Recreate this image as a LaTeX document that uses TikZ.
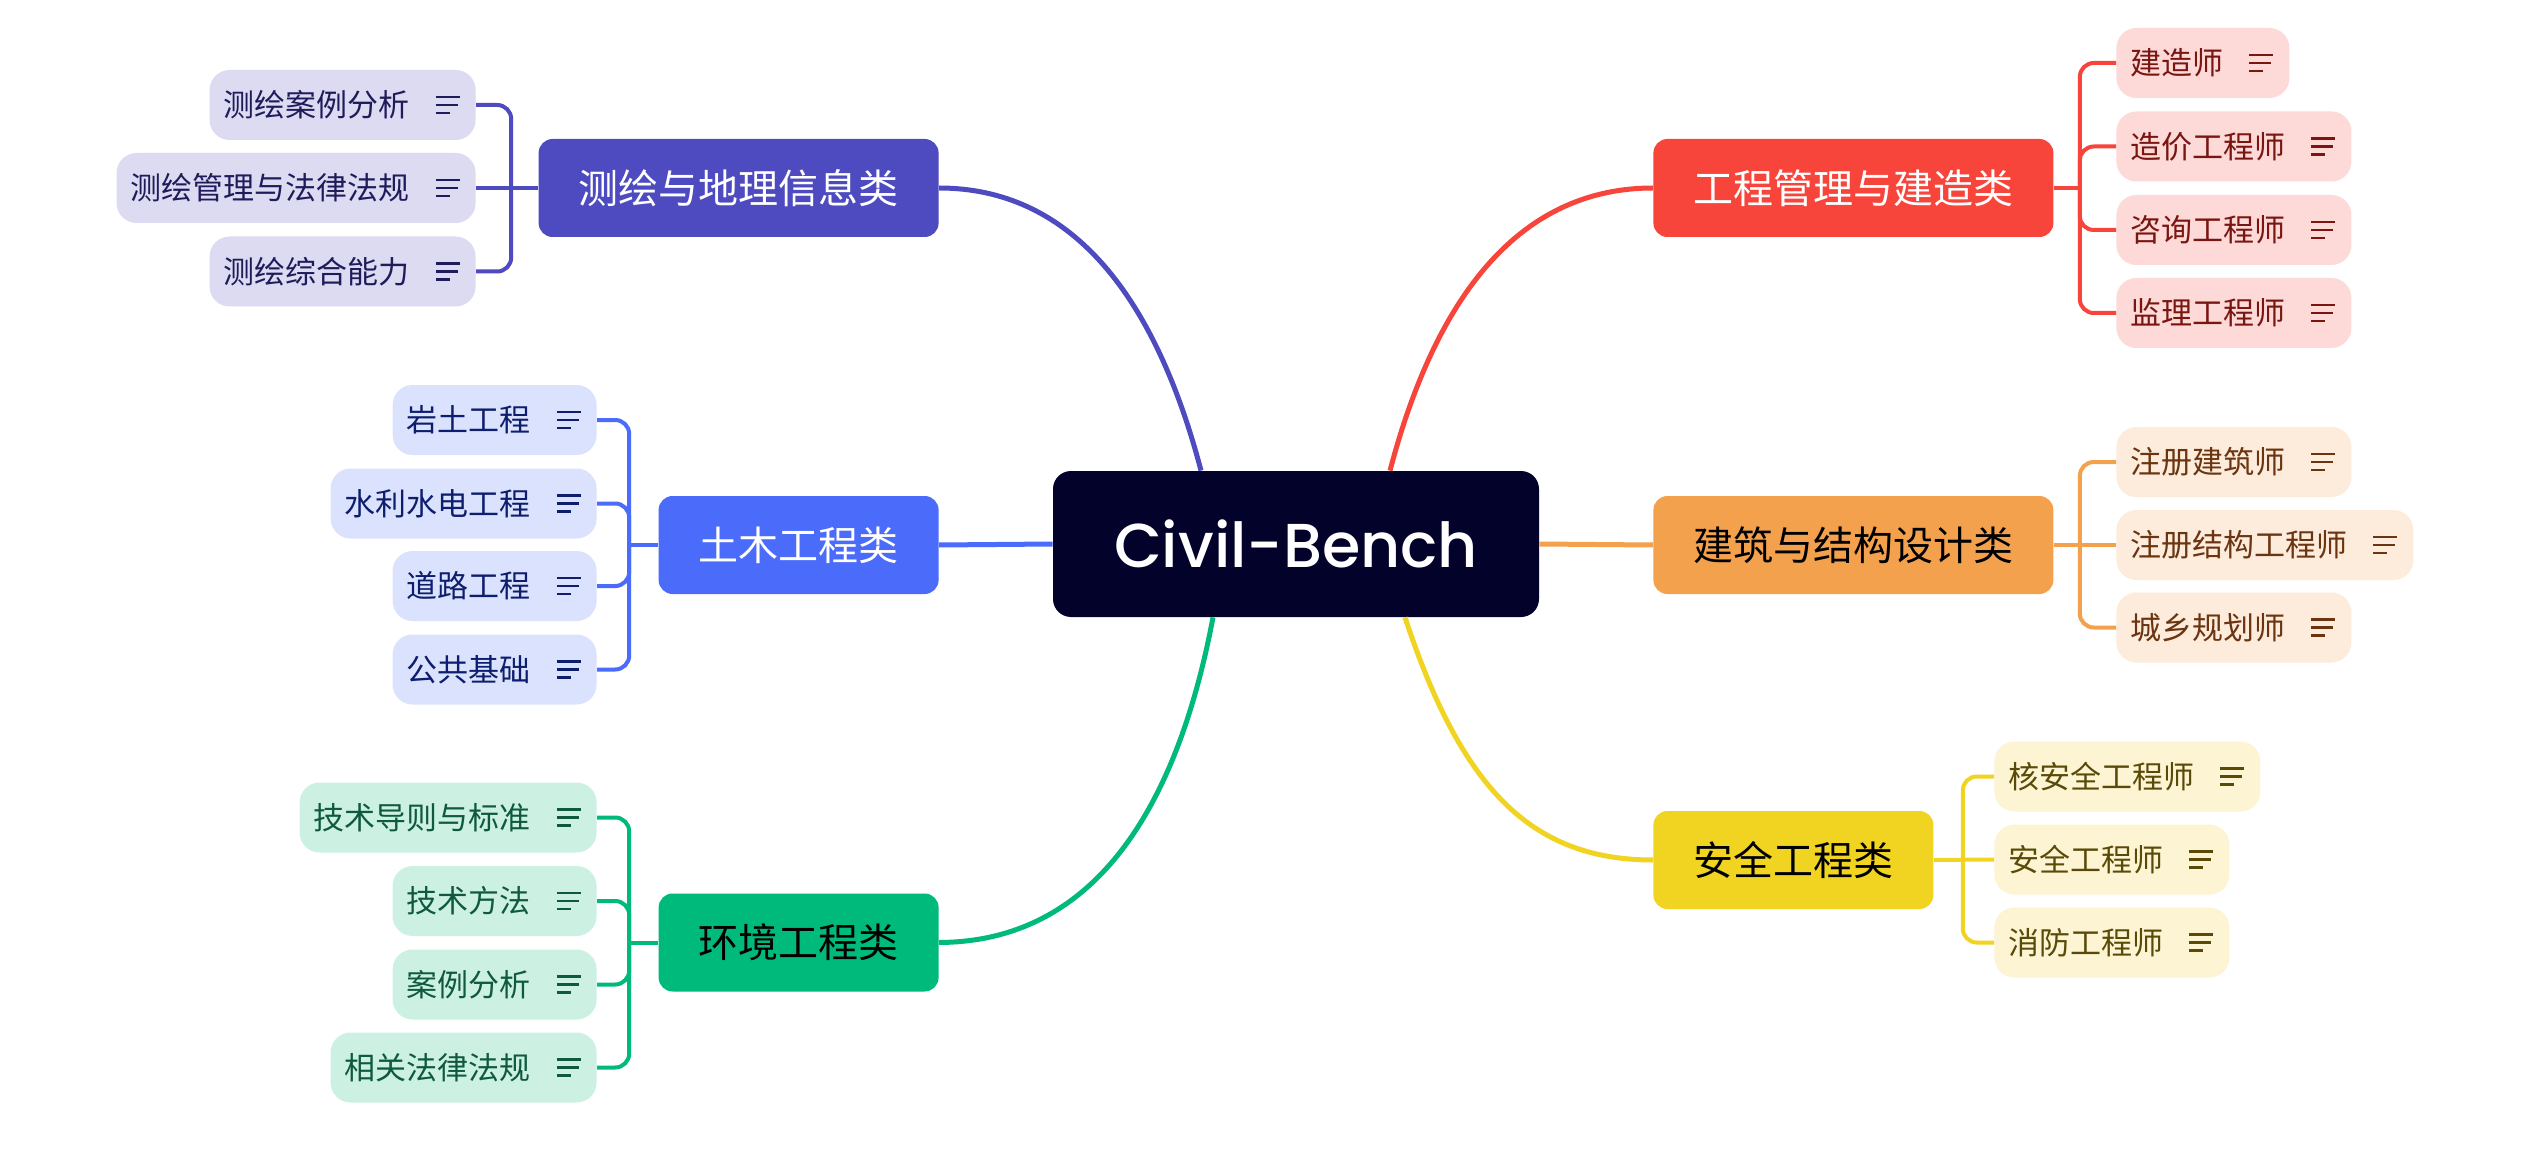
\documentclass[tikz,border=0pt]{standalone}
\usepackage{fontspec}
\usepackage{tikz}
\newfontfamily\cjk{Noto Sans CJK SC}
\newfontfamily\hubfont{Poppins Medium}

\definecolor{hubFill}{HTML}{02022A}
\definecolor{geoMain}{HTML}{4E4BC0}
\definecolor{geoLeaf}{HTML}{DCDBF1}
\definecolor{geoText}{HTML}{1F1C5C}
\definecolor{civMain}{HTML}{4B6BFB}
\definecolor{civLeaf}{HTML}{DBE2FD}
\definecolor{civText}{HTML}{0E1E6E}
\definecolor{envMain}{HTML}{00BA7C}
\definecolor{envLeaf}{HTML}{CCF1E3}
\definecolor{envText}{HTML}{0F5A3E}
\definecolor{mgtMain}{HTML}{F8453C}
\definecolor{mgtLeaf}{HTML}{FDD9D8}
\definecolor{mgtText}{HTML}{7A1612}
\definecolor{desMain}{HTML}{F4A14E}
\definecolor{desLeaf}{HTML}{FDEBDC}
\definecolor{desText}{HTML}{6A3510}
\definecolor{safMain}{HTML}{F1D322}
\definecolor{safLeaf}{HTML}{FCF4D3}
\definecolor{safText}{HTML}{5A4A08}

\tikzset{
 hub/.style={fill=hubFill, text=white, rounded corners=9pt, minimum width=243pt,
  minimum height=73pt, font=\hubfont\fontsize{31pt}{34pt}\selectfont},
 cat/.style 2 args={fill=#1, text=#2, rounded corners=7pt, minimum height=49pt,
  inner xsep=20pt, inner ysep=0pt, font=\cjk\fontsize{20pt}{24pt}\selectfont},
 leaf/.style 2 args={fill=#1, text=#2, rounded corners=10pt, minimum height=35pt,
  inner xsep=7pt, inner ysep=0pt, font=\cjk\fontsize{15.5pt}{18pt}\selectfont,
  execute at end node={\hspace*{26pt}},
  path picture={
   \draw[#2, line width=1.2pt] ([xshift=-20pt,yshift=4pt]path picture bounding box.east) -- ++(12pt,0);
   \draw[#2, line width=1.2pt] ([xshift=-20pt]path picture bounding box.east) -- ++(11pt,0);
   \draw[#2, line width=1.2pt] ([xshift=-20pt,yshift=-4pt]path picture bounding box.east) -- ++(7pt,0);
  }},
 branch/.style={line width=2.5pt},
 conn/.style={line width=2pt}
}

\begin{document}
\begin{tikzpicture}[x=0.5pt, y=-0.5pt]
\fill[white] (0,0) rectangle (2528,1166);
\useasboundingbox (0,0) rectangle (2528,1166);

% centre
\node[hub] (hub) at (1296,544) {Civil-Bench};

% categories
\node[cat={geoMain}{white}, anchor=east] (geo) at (939,188) {测绘与地理信息类};
\node[cat={civMain}{white}, anchor=east] (civ) at (939,545) {土木工程类};
\node[cat={envMain}{black}, anchor=east] (env) at (939,942.5) {环境工程类};
\node[cat={mgtMain}{white}, anchor=west] (mgt) at (1653,188) {工程管理与建造类};
\node[cat={desMain}{black}, anchor=west] (des) at (1653,545) {建筑与结构设计类};
\node[cat={safMain}{black}, anchor=west] (saf) at (1653,860) {安全工程类};

% leaves, left side
\node[leaf={geoLeaf}{geoText}, anchor=east] (g1) at (476,105) {测绘案例分析};
\node[leaf={geoLeaf}{geoText}, anchor=east] (g2) at (476,188) {测绘管理与法律法规};
\node[leaf={geoLeaf}{geoText}, anchor=east] (g3) at (476,271.5) {测绘综合能力};

\node[leaf={civLeaf}{civText}, anchor=east] (c1) at (597,420) {岩土工程};
\node[leaf={civLeaf}{civText}, anchor=east] (c2) at (597,503.5) {水利水电工程};
\node[leaf={civLeaf}{civText}, anchor=east] (c3) at (597,586) {道路工程};
\node[leaf={civLeaf}{civText}, anchor=east] (c4) at (597,669.5) {公共基础};

\node[leaf={envLeaf}{envText}, anchor=east] (e1) at (597,817.5) {技术导则与标准};
\node[leaf={envLeaf}{envText}, anchor=east] (e2) at (597,901) {技术方法};
\node[leaf={envLeaf}{envText}, anchor=east] (e3) at (597,984.5) {案例分析};
\node[leaf={envLeaf}{envText}, anchor=east] (e4) at (597,1067.5) {相关法律法规};

% leaves, right side
\node[leaf={mgtLeaf}{mgtText}, anchor=west] (m1) at (2116,63) {建造师};
\node[leaf={mgtLeaf}{mgtText}, anchor=west] (m2) at (2116,146.5) {造价工程师};
\node[leaf={mgtLeaf}{mgtText}, anchor=west] (m3) at (2116,230) {咨询工程师};
\node[leaf={mgtLeaf}{mgtText}, anchor=west] (m4) at (2116,313) {监理工程师};

\node[leaf={desLeaf}{desText}, anchor=west] (d1) at (2116,462) {注册建筑师};
\node[leaf={desLeaf}{desText}, anchor=west] (d2) at (2116,545) {注册结构工程师};
\node[leaf={desLeaf}{desText}, anchor=west] (d3) at (2116,627.5) {城乡规划师};

\node[leaf={safLeaf}{safText}, anchor=west] (s1) at (1994,776.5) {核安全工程师};
\node[leaf={safLeaf}{safText}, anchor=west] (s2) at (1994,859.5) {安全工程师};
\node[leaf={safLeaf}{safText}, anchor=west] (s3) at (1994,942.5) {消防工程师};

% main branches
\draw[geoMain, branch] ([xshift=-47.5pt]hub.north) .. controls (1154,292) and (1069,188) .. (geo.east);
\draw[mgtMain, branch] ([xshift=47pt]hub.north) .. controls (1437,292) and (1522,188) .. (mgt.west);
\draw[envMain, branch] ([xshift=-41.5pt]hub.south) .. controls (1160,897) and (1030,942) .. (env.east);
\draw[safMain, branch] ([xshift=54.5pt]hub.south) .. controls (1461,787) and (1530,860) .. (saf.west);
\draw[civMain, branch] (hub.west) -- (civ.east);
\draw[desMain, branch] (hub.east) -- (des.west);

% brackets
\draw[geoMain, conn] (geo.west) -- (g2.east);
\coordinate (geoj) at ([xshift=-13.5pt]geo.west);
\foreach \n in {g1,g3} \draw[geoMain, conn, rounded corners=7pt] (geoj) |- (\n.east);

\draw[civMain, conn] (civ.west) -- ++(-14.5pt,0) coordinate (civj);
\foreach \n in {c1,c2,c3,c4} \draw[civMain, conn, rounded corners=7pt] (civj) |- (\n.east);

\draw[envMain, conn] (env.west) -- ++(-14.5pt,0) coordinate (envj);
\foreach \n in {e1,e2,e3,e4} \draw[envMain, conn, rounded corners=7pt] (envj) |- (\n.east);

\draw[mgtMain, conn] (mgt.east) -- ++(13pt,0) coordinate (mgtj);
\foreach \n in {m1,m2,m3,m4} \draw[mgtMain, conn, rounded corners=7pt] (mgtj) |- (\n.west);

\draw[desMain, conn] (des.east) -- (d2.west);
\coordinate (desj) at ([xshift=13pt]des.east);
\foreach \n in {d1,d3} \draw[desMain, conn, rounded corners=7pt] (desj) |- (\n.west);

\draw[safMain, conn] (saf.east) -- (s2.west);
\coordinate (safj) at ([xshift=14.5pt]saf.east);
\foreach \n in {s1,s3} \draw[safMain, conn, rounded corners=7pt] (safj) |- (\n.west);

\end{tikzpicture}
\end{document}
